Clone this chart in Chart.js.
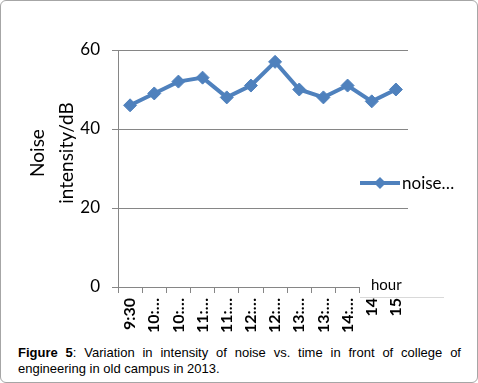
<!DOCTYPE html>
<html>
<head>
<meta charset="utf-8">
<script src="https://cdn.jsdelivr.net/npm/chart.js@4/dist/chart.umd.min.js"></script>
<style>
  body { margin: 0; background: #fff; }
  #frame {
    position: relative; width: 476px; height: 381px;
    border: 1px solid #a6a6a6; border-radius: 6px; overflow: hidden;
  }
  #chartBox { position: absolute; left: -1px; top: -1px; width: 478px; height: 340px; }
  #caption {
    position: absolute; left: 17px; top: 344px; width: 443px;
    font: 13px "Liberation Sans", Arial, sans-serif; line-height: 16px;
    text-align: justify; color: #000;
  }
</style>
</head>
<body>
<div id="frame">
  <div id="chartBox"><canvas id="noiseChart" width="478" height="340"></canvas></div>
  <div id="caption"><b>Figure 5</b>: Variation in intensity of noise vs. time in front of college of engineering in old campus in 2013.</div>
</div>
<script>
const timeLabels = ['9:30', '10:…', '10:…', '11:…', '11:…', '12:…', '12:…', '13:…', '13:…', '14:…', '14', '15'];
const noiseValues = [46, 49, 52, 53, 48, 51, 57, 50, 48, 51, 47, 50];
const yTicks = [0, 20, 40, 60];
const seriesName = 'noise…';
const yTitle = ['Noise', 'intensity/dB'];
const xTitle = 'hour';

const lineBlue = '#4f81bd';
const gridGrey = '#868686';

document.addEventListener('DOMContentLoaded', () => {
    const extras = {
        id: 'extras',
        afterDraw(chart) {
            const ctx = chart.ctx;
            ctx.save();

            // y axis title, two lines rotated
            ctx.fillStyle = '#000';
            ctx.font = '19px Lato';
            ctx.textAlign = 'center';
            ctx.textBaseline = 'middle';
            [38, 67].forEach((x, i) => {
                ctx.save();
                ctx.translate(x, 153);
                ctx.rotate(-Math.PI / 2);
                ctx.fillText(yTitle[i], 0, 0);
                ctx.restore();
            });

            // legend
            ctx.strokeStyle = lineBlue;
            ctx.lineWidth = 4;
            ctx.beginPath();
            ctx.moveTo(360, 183);
            ctx.lineTo(400, 183);
            ctx.stroke();
            ctx.fillStyle = lineBlue;
            ctx.beginPath();
            ctx.moveTo(380, 177);
            ctx.lineTo(386, 183);
            ctx.lineTo(380, 189);
            ctx.lineTo(374, 183);
            ctx.closePath();
            ctx.fill();
            ctx.fillStyle = '#000';
            ctx.font = '17px Lato';
            ctx.textAlign = 'left';
            ctx.fillText(seriesName, 402, 184);

            // x axis title box
            ctx.fillStyle = '#fff';
            ctx.fillRect(360, 267, 84, 30);
            ctx.strokeStyle = '#d9d9d9';
            ctx.lineWidth = 1;
            ctx.beginPath();
            ctx.moveTo(360, 297.5);
            ctx.lineTo(444, 297.5);
            ctx.stroke();
            ctx.fillStyle = '#000';
            ctx.font = '15px Lato';
            ctx.fillText(xTitle, 371, 285);

            ctx.restore();
        }
    };

    new Chart(document.getElementById('noiseChart'), {
        type: 'line',
        data: {
            labels: timeLabels,
            datasets: [{
                label: seriesName,
                data: noiseValues,
                borderColor: lineBlue,
                backgroundColor: lineBlue,
                borderWidth: 4,
                pointStyle: 'rectRot',
                pointRadius: 6.5,
                pointBorderWidth: 1,
                tension: 0
            }]
        },
        options: {
            responsive: false,
            animation: false,
            layout: { padding: { left: 0, right: 70, top: 50, bottom: 0 } },
            plugins: {
                legend: { display: false },
                tooltip: { enabled: false }
            },
            scales: {
                x: {
                    offset: true,
                    afterFit: scale => { scale.height = 53; },
                    grid: {
                        offset: true,
                        drawOnChartArea: false,
                        color: gridGrey,
                        tickLength: 6
                    },
                    border: { color: gridGrey },
                    ticks: {
                        minRotation: 90,
                        maxRotation: 90,
                        autoSkip: false,
                        padding: 5,
                        color: '#000',
                        font: { family: 'Lato', size: 16, weight: 'bold' }
                    }
                },
                y: {
                    min: 0,
                    max: 60,
                    afterFit: scale => { scale.width = 118; },
                    afterBuildTicks: scale => { scale.ticks = yTicks.map(v => ({ value: v })); },
                    grid: { color: gridGrey, tickLength: 6 },
                    border: { color: gridGrey },
                    ticks: {
                        padding: 12,
                        color: '#000',
                        font: { family: 'Lato', size: 17 }
                    }
                }
            }
        },
        plugins: [extras]
    });
});
</script>
</body>
</html>
